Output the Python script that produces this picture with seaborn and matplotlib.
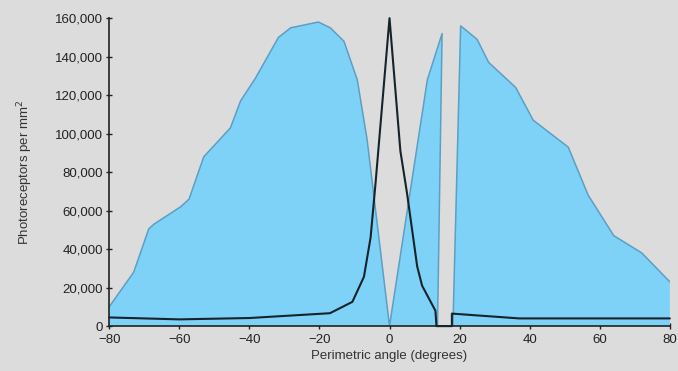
import numpy as np
import pandas as pd
import matplotlib.pyplot as plt
import seaborn as sns
from matplotlib.ticker import FuncFormatter

# rods (blue area); blind spot between ~14 and ~18 degrees
rod_angle = [-80, -73, -68.7, -67.2, -59.6, -57.2, -53, -45.4, -42.5, -38.2, -31.7, -28.2,
             -20.3, -16.9, -13, -9.2, -6.4, 0, 10.8, 15, 13.7, 18.1, 20.3, 25, 28.3,
             36, 41, 51, 56.7, 64, 72, 80]
rod_density = [10000, 28000, 50500, 53000, 62000, 66000, 88000, 103000, 117000, 129000,
               150000, 155000, 158000, 155000, 148000, 128000, 97000, 0, 128000, 152000,
               0, 0, 156000, 149000, 137000, 124000, 107000, 93000, 68000, 47000, 38000, 23000]

# cones (black line)
cone_angle = [-80, -60, -40, -17, -10.6, -7.3, -5.4, -4, 0, 3.1, 5, 7.9, 9.3, 13.1,
              13.4, 17.8, 17.8, 37, 60, 80]
cone_density = [4500, 3500, 4200, 6700, 12600, 25600, 46000, 74000, 160000, 91000, 69000,
                31000, 21000, 8000, 0, 0, 6500, 4000, 4000, 4000]

x_ticks = [-80, -60, -40, -20, 0, 20, 40, 60, 80]
y_ticks = [0, 20000, 40000, 60000, 80000, 100000, 120000, 140000, 160000]

bg = '#dcdcdc'
sns.set_style('ticks')
plt.rcParams['font.family'] = ['Liberation Sans', 'DejaVu Sans']

fig = plt.figure(figsize=(6.78, 3.71), dpi=100, facecolor=bg)
ax = fig.add_axes([0.161, 0.121, 0.827, 0.830], facecolor=bg)

rods = pd.DataFrame({'angle': rod_angle, 'density': rod_density})
cones = pd.DataFrame({'angle': cone_angle, 'density': cone_density})

# fill polygon closed along the x axis
ax.fill(rod_angle + [80, -80], rod_density + [0, 0], color='#7fd2f7', lw=0, zorder=1)
sns.lineplot(data=rods, x='angle', y='density', sort=False, estimator=None, errorbar=None,
             color='#5c9fc2', lw=1.1, ax=ax, zorder=2)
sns.lineplot(data=cones, x='angle', y='density', sort=False, estimator=None, errorbar=None,
             color='#17232a', lw=1.5, ax=ax, zorder=3, clip_on=False)

ax.set_xlim(-80, 80)
ax.set_ylim(0, 160000)
ax.set_xticks(x_ticks)
ax.set_yticks(y_ticks)
ax.set_xticklabels([f'{t}'.replace('-', '\u2212') for t in x_ticks])
ax.yaxis.set_major_formatter(FuncFormatter(lambda v, p: f'{int(v):,}'))
ax.tick_params(direction='inout', length=5, width=1, color='#222222', labelsize=9.5,
               labelcolor='#222222')
ax.tick_params(axis='x', pad=3)
ax.tick_params(axis='y', pad=2)
for s in ['top', 'right']:
    ax.spines[s].set_visible(False)
for s in ['left', 'bottom']:
    ax.spines[s].set_color('#222222')
    ax.spines[s].set_linewidth(1.2)

ax.set_xlabel('Perimetric angle (degrees)', fontsize=9.5, color='#333333', labelpad=3)
ax.set_ylabel('Photoreceptors per mm$^2$', fontsize=9.5, color='#333333', labelpad=14)

fig.savefig('out.png', dpi=100, facecolor=bg)
